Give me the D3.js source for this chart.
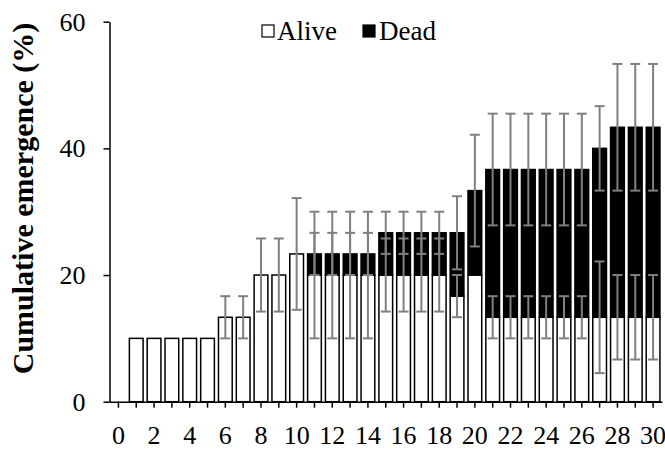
<!DOCTYPE html>
<html>
<head>
<meta charset="utf-8">
<script src="https://cdn.jsdelivr.net/npm/d3@7"></script>
<style>
  body { margin: 0; background: #fff; }
  text { font-family: 'Liberation Serif', 'Times New Roman', serif; }
</style>
</head>
<body>
<div id="chart"></div>
<script>
// days after start, 0..30
var days = d3.range(0, 31);
// cumulative emergence (%) of alive adults, with SE
var alive = [0, 10, 10, 10, 10, 10, 13.33, 13.33, 20, 20, 23.33,
  20, 20, 20, 20, 20, 20, 20, 20, 16.67, 20,
  13.33, 13.33, 13.33, 13.33, 13.33, 13.33, 13.33, 13.33, 13.33, 13.33];
var aliveSE = [0, 0, 0, 0, 0, 0, 3.33, 3.33, 5.77, 5.77, 8.82,
  10, 10, 10, 10, 5.77, 5.77, 5.77, 5.77, 3.33, 0,
  3.33, 3.33, 3.33, 3.33, 3.33, 3.33, 8.82, 6.67, 6.67, 6.67];
// dead adults, stacked on top of alive
var dead = [0, 0, 0, 0, 0, 0, 0, 0, 0, 0, 0,
  3.33, 3.33, 3.33, 3.33, 6.67, 6.67, 6.67, 6.67, 10, 13.33,
  23.33, 23.33, 23.33, 23.33, 23.33, 23.33, 26.67, 30, 30, 30];
// SE of the total (alive + dead)
var totalSE = [0, 0, 0, 0, 0, 0, 0, 0, 0, 0, 0,
  3.33, 3.33, 3.33, 3.33, 3.33, 3.33, 3.33, 3.33, 5.77, 8.82,
  8.82, 8.82, 8.82, 8.82, 8.82, 8.82, 6.67, 10, 10, 10];
var yTicks = [0, 20, 40, 60];
var legendItems = ['Alive', 'Dead'];

var width = 665, height = 449;
var plot = {left: 109.5, right: 662, top: 21.7, bottom: 401.7};

var data = days.map(function(d, i) {
  return {day: d, alive: alive[i], aliveSE: aliveSE[i], dead: dead[i],
          total: alive[i] + dead[i], totalSE: totalSE[i]};
});

var x = d3.scaleBand()
    .domain(days)
    .range([plot.left, plot.right])
    .paddingInner(0.23)
    .paddingOuter(0.115);
var y = d3.scaleLinear()
    .domain([0, 60])
    .range([plot.bottom, plot.top]);

var svg = d3.select('#chart').append('svg')
    .attr('width', width)
    .attr('height', height);

// alive bars (white)
svg.selectAll('rect.alive')
    .data(data.filter(function(d) { return d.alive > 0; }))
  .enter().append('rect')
    .attr('class', 'alive')
    .attr('x', function(d) { return x(d.day); })
    .attr('y', function(d) { return y(d.alive); })
    .attr('width', x.bandwidth())
    .attr('height', function(d) { return y(0) - y(d.alive); })
    .attr('fill', '#fff')
    .attr('stroke', '#000')
    .attr('stroke-width', 1.5);

// dead bars (black) on top
svg.selectAll('rect.dead')
    .data(data.filter(function(d) { return d.dead > 0; }))
  .enter().append('rect')
    .attr('class', 'dead')
    .attr('x', function(d) { return x(d.day); })
    .attr('y', function(d) { return y(d.total); })
    .attr('width', x.bandwidth())
    .attr('height', function(d) { return y(d.alive) - y(d.total); })
    .attr('fill', '#000')
    .attr('stroke', '#000')
    .attr('stroke-width', 1.5);

// axes
var yAxis = svg.append('g')
    .attr('transform', 'translate(' + plot.left + ',0)')
    .call(d3.axisLeft(y).tickValues(yTicks).tickSize(6).tickSizeOuter(0).tickPadding(18));
var xAxis = svg.append('g')
    .attr('transform', 'translate(0,' + plot.bottom + ')')
    .call(d3.axisBottom(x).tickSize(6).tickSizeOuter(0).tickPadding(18)
      .tickFormat(function(d) { return d % 2 ? '' : d; }));

svg.selectAll('.domain, .tick line')
    .attr('stroke', '#000')
    .attr('stroke-width', 1.5);
svg.selectAll('.tick text')
    .style('font-family', "'Liberation Serif', 'Times New Roman', serif")
    .style('font-size', '26px')
    .attr('fill', '#000');

// error bars
var capW = 10;
function errorBars(cls, val, se) {
  var g = svg.selectAll('g.' + cls)
      .data(data.filter(function(d) { return d[se] > 0; }))
    .enter().append('g')
      .attr('class', cls)
      .attr('stroke', '#808080')
      .attr('stroke-width', 2);
  g.append('line')
      .attr('x1', function(d) { return x(d.day) + x.bandwidth() / 2; })
      .attr('x2', function(d) { return x(d.day) + x.bandwidth() / 2; })
      .attr('y1', function(d) { return y(d[val] - d[se]); })
      .attr('y2', function(d) { return y(d[val] + d[se]); });
  [-1, 1].forEach(function(s) {
    g.append('line')
        .attr('x1', function(d) { return x(d.day) + x.bandwidth() / 2 - capW / 2; })
        .attr('x2', function(d) { return x(d.day) + x.bandwidth() / 2 + capW / 2; })
        .attr('y1', function(d) { return y(d[val] + s * d[se]); })
        .attr('y2', function(d) { return y(d[val] + s * d[se]); });
  });
}
errorBars('erralive', 'alive', 'aliveSE');
errorBars('errtotal', 'total', 'totalSE');

// y title
svg.append('text')
    .attr('transform', 'translate(33,198.5) rotate(-90)')
    .attr('text-anchor', 'middle')
    .style('font-size', '30px')
    .style('font-weight', 'bold')
    .text('Cumulative emergence (%)');

// legend
var legend = svg.selectAll('g.legend')
    .data(legendItems)
  .enter().append('g')
    .attr('class', 'legend')
    .attr('transform', function(d, i) { return 'translate(' + (262 + i * 101) + ',25)'; });
legend.append('rect')
    .attr('width', 12)
    .attr('height', 12)
    .attr('fill', function(d, i) { return i ? '#000' : '#fff'; })
    .attr('stroke', '#000')
    .attr('stroke-width', 1.2);
legend.append('text')
    .attr('x', function(d, i) { return i ? 16 : 15; })
    .attr('y', 15)
    .style('font-size', '27px')
    .text(function(d) { return d; });
</script>
</body>
</html>
